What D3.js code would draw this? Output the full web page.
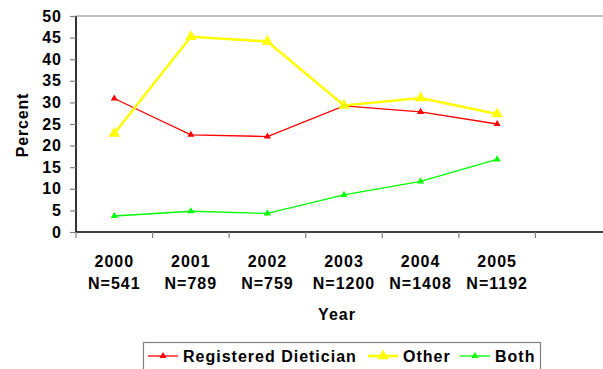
<!DOCTYPE html>
<html>
<head>
<meta charset="utf-8">
<script src="https://cdn.jsdelivr.net/npm/d3@7"></script>
<style>
  body { margin: 0; background: #fff; }
  text { font-family: "Liberation Sans", Arial, sans-serif; font-weight: bold; }
</style>
</head>
<body>
<div id="chart"></div>
<script>
// data
var years = ["2000", "2001", "2002", "2003", "2004", "2005", ""];
var counts = ["N=541", "N=789", "N=759", "N=1200", "N=1408", "N=1192", ""];
var dietician = [30.9, 22.5, 22.1, 29.2, 27.8, 25.0];
var other = [22.8, 45.2, 44.1, 29.3, 31.0, 27.3];
var both = [3.7, 4.8, 4.3, 8.6, 11.7, 16.8];
var yTicks = [0, 5, 10, 15, 20, 25, 30, 35, 40, 45, 50];

var series = [
  {name: "Registered Dietician", values: dietician, color: "#ff0000", width: 1.3, size: 7},
  {name: "Other", values: other, color: "#ffff00", width: 2.6, size: 11},
  {name: "Both", values: both, color: "#00ff00", width: 1.3, size: 7}
];

var width = 603, height = 369;
var margin = {left: 76, right: 612, top: 16, bottom: 232};

var svg = d3.select("#chart").append("svg")
  .attr("width", width)
  .attr("height", height);

var x = d3.scaleBand().domain(d3.range(years.length)).range([margin.left, margin.right]);
var y = d3.scaleLinear().domain([0, 50]).range([margin.bottom, margin.top]);

// top border of plot area
svg.append("line")
  .attr("x1", margin.left).attr("x2", width)
  .attr("y1", margin.top).attr("y2", margin.top)
  .attr("stroke", "#808080").attr("stroke-width", 1.2);

// y axis
var yAxis = svg.append("g")
  .attr("transform", "translate(" + margin.left + ",0)")
  .call(d3.axisLeft(y).tickValues(yTicks).tickSize(6).tickPadding(8));
yAxis.select(".domain").attr("stroke", "#000").attr("stroke-width", 1.6)
  .attr("d", "M0," + margin.top + "V" + margin.bottom);
yAxis.selectAll(".tick line").attr("stroke", "#808080").attr("stroke-width", 1.2);
yAxis.selectAll(".tick text")
  .attr("font-size", "16px").attr("fill", "#000")
  .attr("letter-spacing", "1px")
  .attr("font-family", "Liberation Sans, Arial, sans-serif").attr("font-weight", "bold");

// x axis
var xAxis = svg.append("g")
  .attr("transform", "translate(0," + margin.bottom + ")");
xAxis.append("line")
  .attr("x1", margin.left).attr("x2", width)
  .attr("stroke", "#000").attr("stroke-width", 1.6);
xAxis.selectAll(".xt")
  .data(d3.range(years.length))
  .enter().append("line")
  .attr("x1", function(d) { return x(d); })
  .attr("x2", function(d) { return x(d); })
  .attr("y1", 0).attr("y2", 6)
  .attr("stroke", "#808080").attr("stroke-width", 1.2);

var cx = function(i) { return x(i) + x.bandwidth() / 2; };

svg.selectAll(".yr")
  .data(years)
  .enter().append("text")
  .attr("x", function(d, i) { return cx(i); })
  .attr("y", 267)
  .attr("text-anchor", "middle")
  .attr("font-size", "16px")
  .attr("letter-spacing", "1px")
  .text(function(d) { return d; });

svg.selectAll(".cnt")
  .data(counts)
  .enter().append("text")
  .attr("x", function(d, i) { return cx(i); })
  .attr("y", 289)
  .attr("text-anchor", "middle")
  .attr("font-size", "16px")
  .attr("letter-spacing", "1px")
  .text(function(d) { return d; });

// axis titles
svg.append("text")
  .attr("x", 337).attr("y", 320)
  .attr("text-anchor", "middle")
  .attr("font-size", "16px")
  .attr("letter-spacing", "1px")
  .text("Year");

svg.append("text")
  .attr("transform", "translate(28,125) rotate(-90)")
  .attr("text-anchor", "middle")
  .attr("font-size", "16px")
  .attr("letter-spacing", "0.8px")
  .text("Percent");

// lines + markers
var line = d3.line()
  .x(function(d, i) { return cx(i); })
  .y(function(d) { return y(d); });

var tri = function(s) { return d3.symbol().type(d3.symbolTriangle).size(s * s * 0.45)(); };

series.forEach(function(s) {
  svg.append("path")
    .datum(s.values)
    .attr("d", line)
    .attr("fill", "none")
    .attr("stroke", s.color)
    .attr("stroke-width", s.width);

  svg.selectAll(null)
    .data(s.values)
    .enter().append("path")
    .attr("d", tri(s.size))
    .attr("transform", function(d, i) { return "translate(" + cx(i) + "," + y(d) + ")"; })
    .attr("fill", s.color);
});

// legend
var lg = svg.append("g");
lg.append("rect")
  .attr("x", 143.5).attr("y", 342.5)
  .attr("width", 397).attr("height", 40)
  .attr("fill", "#fff").attr("stroke", "#808080").attr("stroke-width", 1.2);

var legX = [148, 368, 460];
series.forEach(function(s, i) {
  lg.append("line")
    .attr("x1", legX[i]).attr("x2", legX[i] + 30)
    .attr("y1", 356).attr("y2", 356)
    .attr("stroke", s.color).attr("stroke-width", s.width);
  lg.append("path")
    .attr("d", tri(s.size))
    .attr("transform", "translate(" + (legX[i] + 15) + ",356)")
    .attr("fill", s.color);
  lg.append("text")
    .attr("x", legX[i] + 35).attr("y", 362)
    .attr("font-size", "16px")
    .attr("letter-spacing", "1px")
    .text(s.name);
});
</script>
</body>
</html>
